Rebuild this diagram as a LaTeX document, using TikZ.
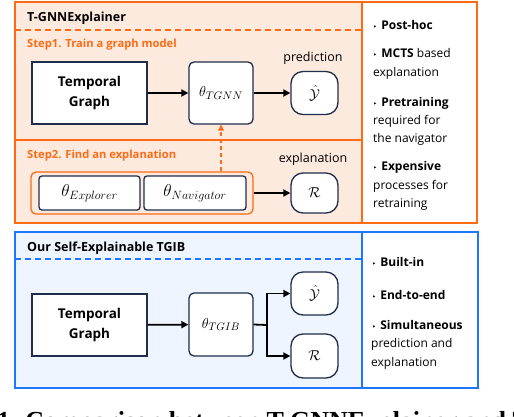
\documentclass[tikz,border=0pt]{standalone}
\usepackage{fontspec}
\setmainfont{Open Sans}
\newfontfamily\symf{DejaVu Sans}
\newfontfamily\capf{Liberation Serif}
\usetikzlibrary{arrows.meta}
\definecolor{ora}{RGB}{255,106,20}
\definecolor{orafill}{RGB}{253,234,223}
\definecolor{blu}{RGB}{30,120,255}
\definecolor{blufill}{RGB}{238,245,254}
\definecolor{navy}{RGB}{31,45,74}
\tikzset{
  panel/.style={line width=2.4pt},
  box/.style={draw=navy,fill=white,line width=1.3pt,inner sep=0pt,align=center},
  tg/.style={box,minimum width=115pt,minimum height=62pt,font=\fontsize{13.5}{20}\selectfont\bfseries},
  theta/.style={box,rounded corners=5pt,minimum width=64pt,minimum height=62pt,font=\fontsize{15}{17}\selectfont},
  outbox/.style={box,rounded corners=12pt,minimum width=47pt,minimum height=43pt,font=\fontsize{14}{17}\selectfont},
  small/.style={box,rounded corners=3pt,minimum width=101pt,minimum height=34pt,font=\fontsize{16.5}{18}\selectfont},
  arr/.style={line width=1.8pt,-{Triangle[length=7pt,width=7pt]}},
  title/.style={anchor=base west,font=\fontsize{12.5}{16}\selectfont\bfseries,inner sep=0pt},
  steplab/.style={anchor=base west,font=\fontsize{11.2}{14}\selectfont\bfseries,text=ora,inner sep=0pt},
  lab/.style={font=\fontsize{12.5}{16}\selectfont,inner sep=0pt},
  rt/.style={anchor=base west,font=\fontsize{12}{15}\selectfont,inner sep=0pt},
}
\newcommand{\bul}{{\symf\fontsize{7}{8}\selectfont ‣}\hspace{4pt}}
\begin{document}
\begin{tikzpicture}[x=1pt,y=-1pt]
\useasboundingbox (0,0) rectangle (514,416);
% ---------- orange panel ----------
\fill[orafill] (15,2) rectangle (362,223);
\fill[white] (362,2) rectangle (477,223);
\draw[ora,panel] (15,2) rectangle (477,223);
\draw[ora,line width=1.8pt] (362,2) -- (362,223);
\draw[ora,line width=1.2pt,dash pattern=on 6pt off 4pt] (15,30) -- (362,30);
\draw[ora,line width=1.2pt] (15,140) -- (362,140);
\node[title] (t1) at (27,21.5) {T-GNNExplainer};
\node[steplab] (s1) at (27,47.5) {Step1. Train a graph model};
\node[steplab] (s2) at (27,158.5) {Step2. Find an explanation};

\node[tg] (tg1) at (89.5,93) {Temporal\\Graph};
\node[theta] (tgnn) at (221,93) {$\theta_{TGNN}$};
\node[outbox] (y1) at (314.5,93) {$\hat{\mathcal{Y}}$};
\node[lab] (pred) at (313,58) {prediction};

\node[draw=ora,line width=1.3pt,rounded corners=5pt,minimum width=222pt,minimum height=42pt,inner sep=0pt] (cont) at (142,193) {};
\node[small] (expl) at (89.5,193) {$\theta_{Explorer}$};
\node[small,minimum width=102pt] (nav) at (195,193) {$\theta_{Navigator}$};
\node[outbox,minimum height=40pt] (r1) at (314.5,193) {$\mathcal{R}$};
\node[lab] (explab) at (313,159) {explanation};

\draw[arr] (tg1) -- (tgnn);
\draw[arr] (tgnn) -- (y1);
\draw[arr] (cont) -- (r1);
\draw[ora,line width=1.5pt,dash pattern=on 4pt off 3pt,-{Triangle[length=6pt,width=6pt]}] (cont.north -| tgnn.south) -- (tgnn.south);

\node[rt] (a1) at (373,29.5) {\bul\textbf{Post-hoc}};
\node[rt] (a2) at (373,57.5) {\bul\textbf{MCTS} based};
\node[rt] (a3) at (373,76.5) {explanation};
\node[rt] (a4) at (373,106.5) {\bul\textbf{Pretraining}};
\node[rt] (a5) at (373,124.5) {required for};
\node[rt] (a6) at (373,142.5) {the navigator};
\node[rt] (a7) at (373,170.5) {\bul\textbf{Expensive}};
\node[rt] (a8) at (373,189.5) {processes for};
\node[rt] (a9) at (373,207.5) {retraining};

% ---------- blue panel ----------
\fill[blufill] (15,232) rectangle (362,388);
\fill[white] (362,232) rectangle (478,388);
\draw[blu,panel] (15,232) rectangle (478,388);
\draw[blu,line width=1.8pt] (362,232) -- (362,388);
\draw[blu,line width=1.2pt,dash pattern=on 6pt off 4pt] (15,259) -- (362,259);
\node[title] (t2) at (27,251.5) {Our Self-Explainable TGIB};

\node[tg] (tg2) at (89.5,325) {Temporal\\Graph};
\node[theta,minimum height=63pt] (tgib) at (221,324.5) {$\theta_{TGIB}$};
\node[outbox] (y2) at (314.5,293.5) {$\hat{\mathcal{Y}}$};
\node[outbox,minimum height=44pt] (r2) at (314.5,356) {$\mathcal{R}$};
\coordinate (fork) at (267,325);
\draw[arr] (tg2) -- (tgib);
\draw[line width=1.8pt] (tgib.east) -- (fork);
\draw[arr] (fork) |- (y2.west);
\draw[arr] (fork) |- (r2.west);

\node[rt] (b1) at (372,266.5) {\bul\textbf{Built-in}};
\node[rt] (b2) at (372,299.5) {\bul\textbf{End-to-end}};
\node[rt] (b3) at (372,329.5) {\bul\textbf{Simultaneous}};
\node[rt] (b4) at (371,347.5) {prediction and};
\node[rt] (b5) at (371,366.5) {explanation};

% ---------- caption (cut off) ----------
\begin{scope}
\clip (0,0) rectangle (514,416);
\node[anchor=base west,inner sep=0pt,font=\capf\fontsize{26}{30}\selectfont\bfseries] (cap) at (-3,429) {1. Comparison between T-GNNExplainer and TGIB};
\end{scope}
\end{tikzpicture}
\end{document}
